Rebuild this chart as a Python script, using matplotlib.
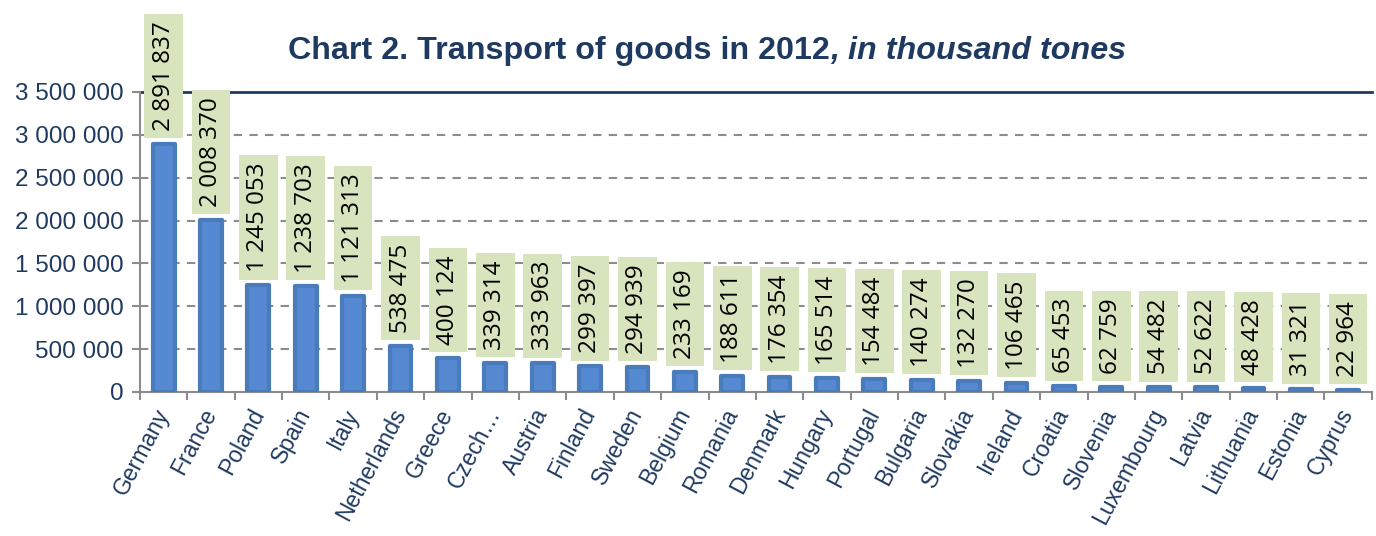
import matplotlib
matplotlib.use('Agg')
import matplotlib.pyplot as plt
import numpy as np

countries = ['Germany', 'France', 'Poland', 'Spain', 'Italy', 'Netherlands', 'Greece',
             'Czech…', 'Austria', 'Finland', 'Sweden', 'Belgium', 'Romania', 'Denmark',
             'Hungary', 'Portugal', 'Bulgaria', 'Slovakia', 'Ireland', 'Croatia',
             'Slovenia', 'Luxembourg', 'Latvia', 'Lithuania', 'Estonia', 'Cyprus']
tonnes = [2891837, 2008370, 1245053, 1238703, 1121313, 538475, 400124, 339314,
          333963, 299397, 294939, 233169, 188611, 176354, 165514, 154484, 140274,
          132270, 106465, 65453, 62759, 54482, 52622, 48428, 31321, 22964]
y_ticks = [0, 500000, 1000000, 1500000, 2000000, 2500000, 3000000, 3500000]

navy = '#1f3a60'

def fmt(v):
    return f"{v:,}".replace(',', ' ')

fig = plt.figure(figsize=(13.76, 5.36), dpi=100)
ax = fig.add_axes([0.1017, 0.2687, 0.8953, 0.5597])

x = np.arange(len(countries))
bars = ax.bar(x, tonnes, width=0.46, color='#5589d2', edgecolor='#4a7cbb',
              linewidth=3, zorder=3)
for b in bars:
    b.set_joinstyle('round')

ax.set_xlim(-0.5, len(countries) - 0.5)
ax.set_ylim(0, 3500000)

# grid
for t in y_ticks[1:-1]:
    ax.axhline(t, color='#8c8c8c', lw=1.5, ls=(0, (4, 3.5)), zorder=1)
ax.axhline(3500000, color=navy, lw=2, zorder=2, clip_on=False)

ax.set_yticks(y_ticks)
ax.set_yticklabels([fmt(t) for t in y_ticks], fontsize=17.5, color=navy,
                   family='Liberation Sans')
ax.tick_params(axis='y', length=6, width=1.5, color='#8c8c8c', pad=6)

ax.set_xticks(x)
ax.set_xticklabels(countries, rotation=62, ha='right', va='center',
                   rotation_mode='anchor', fontsize=16.5, color=navy,
                   family='Liberation Sans')
ax.tick_params(axis='x', which='major', length=0, pad=13)
ax.set_xticks(np.arange(len(countries) + 1) - 0.5, minor=True)
ax.tick_params(axis='x', which='minor', length=6, width=1.5, color='#8c8c8c')

for s in ['top', 'right']:
    ax.spines[s].set_visible(False)
for s in ['left', 'bottom']:
    ax.spines[s].set_color('#8c8c8c')
    ax.spines[s].set_linewidth(1.5)

# data labels
for xi, v in zip(x, tonnes):
    ax.annotate(fmt(v), xy=(xi, v), xytext=(0, 13), textcoords='offset pixels',
                rotation=90, ha='center', va='bottom', fontsize=17.5,
                family='Open Sans', color='black', zorder=5,
                bbox=dict(boxstyle='square,pad=0.3', facecolor='#d7e4bd',
                          edgecolor='none'))

# title: bold part + bold italic part
split_x = 830 / 1376
ty = 1 - 59 / 536
fig.text(split_x, ty, 'Chart 2. Transport of goods in 2012', ha='right',
         va='baseline', fontsize=23.2, fontweight='bold', color=navy,
         family='Liberation Sans')
fig.text(split_x, ty, ', in thousand tones', ha='left', va='baseline',
         fontsize=23.2, fontweight='bold', fontstyle='italic', color=navy,
         family='Liberation Sans')

fig.savefig('out.png', dpi=100)
